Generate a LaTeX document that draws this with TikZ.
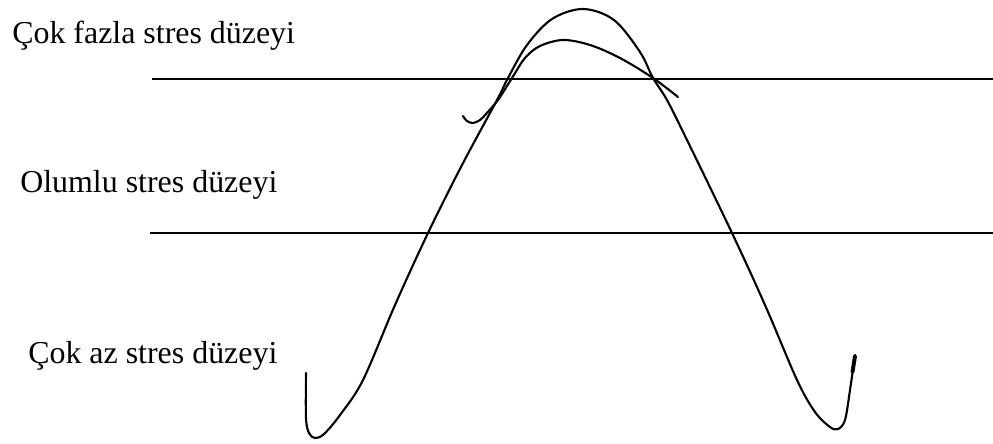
\documentclass[tikz,border=0pt]{standalone}
\usepackage{fontspec}
\setmainfont{Liberation Serif}
\usetikzlibrary{positioning}

\begin{document}
\begin{tikzpicture}[
  x=0.025cm, y=-0.025cm,
  levellabel/.style={anchor=base west, inner sep=0pt, font=\fontsize{22.7pt}{27pt}\selectfont},
  levelline/.style={line width=1.2pt, black},
  stresscurve/.style={line width=1.5pt, black, line cap=round, line join=round}
]
  \useasboundingbox (0,0) rectangle (993,443);
  % labels
  \node[levellabel] (lvlhigh) at (12,43) {Çok fazla stres düzeyi};
  \node[levellabel] (lvlpos) at (20,192) {Olumlu stres düzeyi};
  \node[levellabel] (lvllow) at (28,363) {Çok az stres düzeyi};
  % level lines
  \coordinate (hiL) at (152,79);
  \coordinate (hiR) at (993,79);
  \coordinate (posL) at (150,233);
  \coordinate (posR) at (993,233);
  \draw[levelline] (hiL) -- (hiR);
  \draw[levelline] (posL) -- (posR);
  % main curve
  \draw[stresscurve] plot[smooth, tension=0.55] coordinates {
    (306,373) (306,418) (309,433) (315,438) (324,434) (340,415) (363,380)
    (395,305) (428,233) (462,165) (497,100) (508,78) (527,45)
    (552,19) (583,9) (614,20) (640,52) (653,78) (667,100)
    (687,140) (732,233) (765,305) (797,380) (815,412) (830,427) (838,429)
    (845,420) (850,390) (855,355)};
  \draw[line width=2.8pt, line cap=round] (852.5,372) -- (855,356);
  % inner curve
  \draw[stresscurve] plot[smooth, tension=0.55] coordinates {
    (463,116) (467,121) (473,123) (480,120) (486,114) (498,100) (512,78)
    (525,58) (540,46) (563,40) (590,45) (620,58) (653,78) (678,97)};
\end{tikzpicture}
\end{document}
